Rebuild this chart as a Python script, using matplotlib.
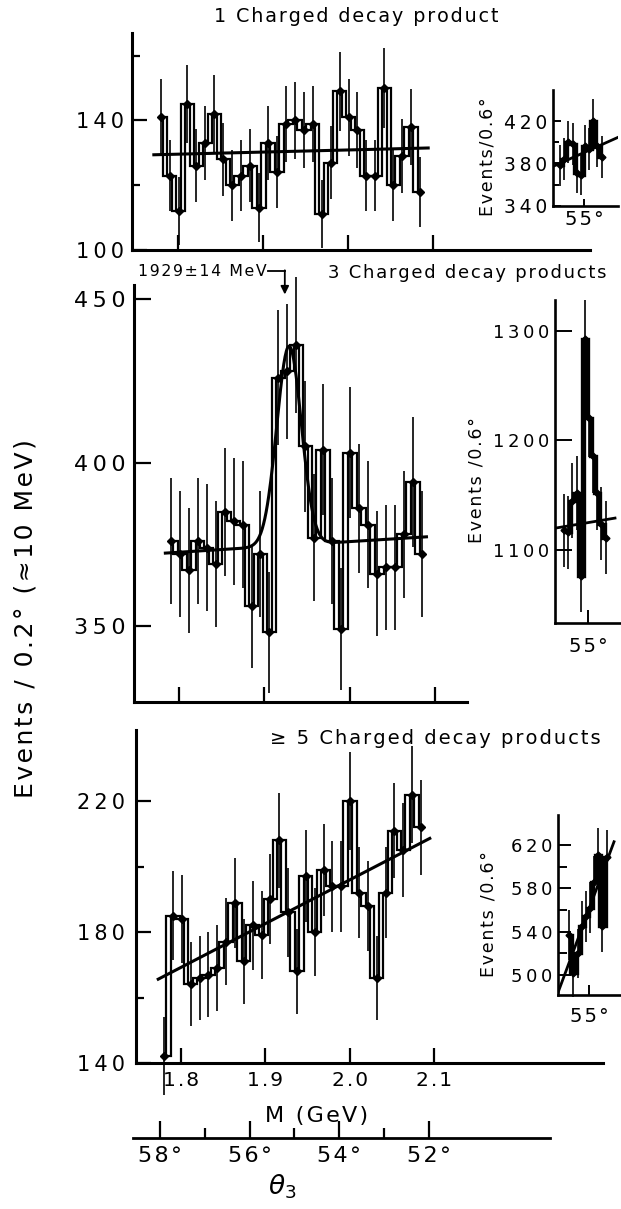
import numpy as np
import matplotlib
matplotlib.use("Agg")
import matplotlib.pyplot as plt

plt.rcParams['font.family'] = ['DejaVu Sans']
plt.rcParams['mathtext.fontset'] = 'dejavusans'

W, H = 621, 1209

# bin centres in theta3 (0.2 deg bins)
theta_bins = [57.9, 57.7, 57.5, 57.3, 57.1, 56.9, 56.7, 56.5, 56.3, 56.1,
              55.9, 55.7, 55.5, 55.3, 55.1, 54.9, 54.7, 54.5, 54.3, 54.1,
              53.9, 53.7, 53.5, 53.3, 53.1, 52.9, 52.7, 52.5, 52.3, 52.1]
m_first = 1.780
gev_per_deg = 0.0525

counts_1 = [141, 123, 112, 145, 126, 133, 142, 128, 120, 123,
            126, 113, 133, 124, 139, 140, 137, 139, 111, 127,
            149, 141, 137, 123, 123, 150, 120, 129, 138, 118]
# 3-prong histogram starts one bin later (57.7 deg)
counts_3 = [376, 372, 367, 376, 374, 369, 385, 382, 381, 356,
            372, 348, 426, 428, 436, 405, 377, 404, 376, 349,
            403, 386, 381, 366, 368, 368, 378, 394, 372]
counts_5 = [142, 185, 184, 164, 166, 167, 169, 177, 189, 171,
            182, 179, 190, 208, 186, 168, 197, 180, 199, 194,
            194, 220, 192, 188, 166, 192, 211, 205, 222, 212]

fit_1_m = [1.772, 2.094]
fit_1_n = [129.4, 131.5]
fit_5_m = [1.773, 2.095]
fit_5_n = [165.6, 208.6]
# 3-prong fit: peak on a sloping background
peak_m, peak_sigma, peak_height = 1.929, 0.0144, 61.0
bkg_m0, bkg_level, bkg_slope = 1.784, 372.3, 16.3
fit_3_range = (1.784, 2.090)
arrow_m = 1.924

# insets, 0.6 deg bins
inset_theta = [58.5, 57.9, 57.3, 56.7, 56.1, 55.5, 54.9, 54.3, 53.7, 53.1, 52.5]
inset_1 = [378, 384, 400, 398, 371, 369, 396, 394, 420, 396, 386]
inset_3 = [1118, 1116, 1145, 1152, 1076, 1292, 1220, 1186, 1152, 1124, 1111]
inset_5 = [537, 502, 520, 545, 554, 562, 586, 611, 545, 609]  # from 57.9
inset_fit_1 = ([59.58, 50.07], [377, 404.7])
inset_fit_3 = ([59.83, 51.13], [1119.8, 1129])
inset_fit_5 = ([59.58, 51.42], [483, 623])

THIN, HAIR = '\u2009', '\u200a'


def to_mass(theta):
    return m_first + (theta_bins[0] - np.asarray(theta)) * gev_per_deg


def sp(s, gap=THIN):
    # wide lettering of the original: small space between characters
    return gap.join(s)


fig = plt.figure(figsize=(W / 100, H / 100), dpi=100)


def axes_px(left, top, right, bottom):
    return fig.add_axes([left / W, 1 - bottom / H, (right - left) / W, (bottom - top) / H])


def text_px(x, y, s, **kw):
    fig.text(x / W, 1 - y / H, s, **kw)


def style(ax, lw=2.2, major=11, minor=6, width=1.6):
    for s in ['top', 'right']:
        ax.spines[s].set_visible(False)
    ax.spines['left'].set_linewidth(lw)
    ax.spines['bottom'].set_linewidth(lw)
    ax.tick_params(which='major', direction='in', length=major, width=width)
    ax.tick_params(which='minor', direction='in', length=minor, width=width)
    ax.patch.set_alpha(0)


def set_yt(ax, ticks, size, pad):
    ax.set_yticks(ticks)
    ax.set_yticklabels([sp(str(t)) for t in ticks])
    ax.tick_params(axis='y', labelsize=size, pad=pad)


def draw_hist(ax, x, y, lw=1.6, elw=1.2, ms=4.5):
    x = np.asarray(x, float)
    y = np.asarray(y, float)
    q = np.abs(np.diff(x)).mean() / 4
    s = np.sign(x[1] - x[0])
    for i in range(len(x)):
        ax.plot([x[i] - q, x[i] + q], [y[i], y[i]], color='k', lw=lw,
                solid_capstyle='butt', clip_on=False)
    for i in range(len(x) - 1):
        a, b = x[i] + s * q, x[i + 1] - s * q
        ax.plot([a, a, b, b, a], [y[i], y[i + 1], y[i + 1], y[i], y[i]],
                color='k', lw=lw, solid_joinstyle='miter', clip_on=False)
    err = np.sqrt(y)
    ax.vlines(x, y - err, y + err, color='k', lw=elw, clip_on=False)
    ax.plot(x, y, 'D', color='k', ms=ms, clip_on=False)


# ---- top panel: 1 charged decay product
ax1 = axes_px(132.3, 33, 590, 250)
style(ax1)
draw_hist(ax1, to_mass(theta_bins), counts_1)
ax1.plot(fit_1_m, fit_1_n, color='k', lw=2.2)
ax1.set_xlim(1.8 + (132.3 - 177.7) / 852, 1.8 + (590 - 177.7) / 852)
ax1.set_ylim(100, 167)
ax1.set_xticks([1.8, 1.9, 2.0, 2.1])
ax1.set_xticklabels([])
set_yt(ax1, [100, 140], 15, 6)
ax1.set_yticks([120, 160], minor=True)

# ---- middle panel: 3 charged decay products
ax3 = axes_px(134.3, 285, 467, 701.7)
style(ax3)
draw_hist(ax3, to_mass(theta_bins[1:]), counts_3)
mm = np.linspace(fit_3_range[0], fit_3_range[1], 400)
curve = (bkg_level + bkg_slope * (mm - bkg_m0)
         + peak_height * np.exp(-0.5 * ((mm - peak_m) / peak_sigma) ** 2))
ax3.plot(mm, curve, color='k', lw=2.2)
ax3.set_xlim(1.8 + (134.3 - 179) / 853.3, 1.8 + (467 - 179) / 853.3)
ax3.set_ylim(326.8, 454.4)
ax3.set_xticks([1.8, 1.9, 2.0, 2.1])
ax3.set_xticklabels([])
set_yt(ax3, [350, 400, 450], 16, 6)
ax3.tick_params(axis='y', length=12)
# 1929 MeV marker
ax3.plot([1.9043, arrow_m], [458.7, 458.7], color='k', lw=1.3, clip_on=False)
ax3.annotate('', xy=(arrow_m, 451.5), xytext=(arrow_m, 458.9),
             arrowprops=dict(arrowstyle='-|>', color='k', lw=1.3,
                             mutation_scale=12, shrinkA=0, shrinkB=0),
             annotation_clip=False)

# ---- bottom panel: >=5 charged decay products
ax5 = axes_px(136, 730, 603, 1063)
style(ax5)
draw_hist(ax5, to_mass(theta_bins), counts_5)
ax5.plot(fit_5_m, fit_5_n, color='k', lw=2.2)
ax5.set_xlim(1.8 + (136 - 181) / 843.3, 1.8 + (603 - 181) / 843.3)
ax5.set_ylim(140, 241.7)
ax5.set_xticks([1.8, 1.9, 2.0, 2.1])
ax5.set_xticklabels([sp(t, HAIR) for t in ['1.8', '1.9', '2.0', '2.1']])
set_yt(ax5, [140, 180, 220], 15, 8)
ax5.set_yticks([160, 200], minor=True)
ax5.tick_params(axis='x', labelsize=14.5, pad=6)

# ---- theta3 scale
axt = axes_px(133, 1100, 550, 1138)
for s in ['top', 'right', 'left']:
    axt.spines[s].set_visible(False)
axt.spines['bottom'].set_linewidth(2.0)
axt.patch.set_alpha(0)
axt.set_xlim(58 + 27 / 44.83, 58 - 390 / 44.83)
axt.set_yticks([])
axt.set_xticks([58, 56, 54, 52])
axt.set_xticklabels([sp(t, HAIR) for t in ['58°', '56°', '54°', '52°']])
axt.set_xticks([57, 55, 53], minor=True)
axt.tick_params(which='major', direction='in', length=12, width=1.6, labelsize=16, pad=6)
axt.tick_params(which='minor', direction='in', length=7, width=1.6)


# ---- insets (Events / 0.6 deg)
def inset(box, ylim, xlim, th, vals, fit, yt, ytm, xpad, tlen, size):
    ax = axes_px(*box)
    style(ax, lw=1.9, major=tlen, minor=tlen * 0.7, width=1.4)
    draw_hist(ax, th, vals, lw=2.4, elw=1.2, ms=3.5)
    ax.plot(fit[0], fit[1], color='k', lw=2.0)
    ax.set_xlim(*xlim)
    ax.set_ylim(*ylim)
    set_yt(ax, yt, size, 4)
    if ytm:
        ax.set_yticks(ytm, minor=True)
    ax.set_xticks([55])
    ax.set_xticklabels([sp('55°', HAIR)])
    ax.tick_params(axis='x', labelsize=14, pad=xpad, length=tlen * 0.8)
    return ax


inset((552.7, 90, 618.3, 205.7), (340, 449.3), (59.58, 50.07),
      inset_theta, inset_1, inset_fit_1, [340, 380, 420], [360, 400], 3, 6, 13.5)
inset((555, 300, 621, 623.3), (1033, 1328), (59.83, 50.26),
      inset_theta, inset_3, inset_fit_3, [1100, 1200, 1300], None, 10, 12, 13)
inset((557.7, 815, 621, 995), (481.5, 647.7), (59.58, 50.41),
      inset_theta[1:], inset_5, inset_fit_5, [500, 540, 580, 620], [520, 560, 600], 9, 9, 13)

# ---- labels
text_px(214, 17, sp('1 Charged decay product', HAIR), ha='left', va='center', fontsize=13.8)
text_px(606, 273, sp('3 Charged decay products', HAIR), ha='right', va='center', fontsize=13)
text_px(270, 739, sp('≥ 5 Charged decay products', HAIR), ha='left', va='center', fontsize=14)
text_px(267, 271, sp('1929±14 MeV', HAIR), ha='right', va='center', fontsize=11.3)
text_px(317, 1116, sp('M (GeV)', HAIR), ha='center', va='center', fontsize=16)
text_px(282, 1187, r'$\theta_3$', ha='center', va='center', fontsize=19)
text_px(26, 619, sp('Events / 0.2° (≈10 MeV)', HAIR), rotation=90, ha='center', va='center', fontsize=18)
text_px(487, 157, sp('Events/0.6°', HAIR), rotation=90, ha='center', va='center', fontsize=12.5)
text_px(476.5, 480, sp('Events /0.6°', HAIR), rotation=90, ha='center', va='center', fontsize=12.5)
text_px(488.5, 914, sp('Events /0.6°', HAIR), rotation=90, ha='center', va='center', fontsize=12.5)

fig.savefig('out.png', dpi=100)
